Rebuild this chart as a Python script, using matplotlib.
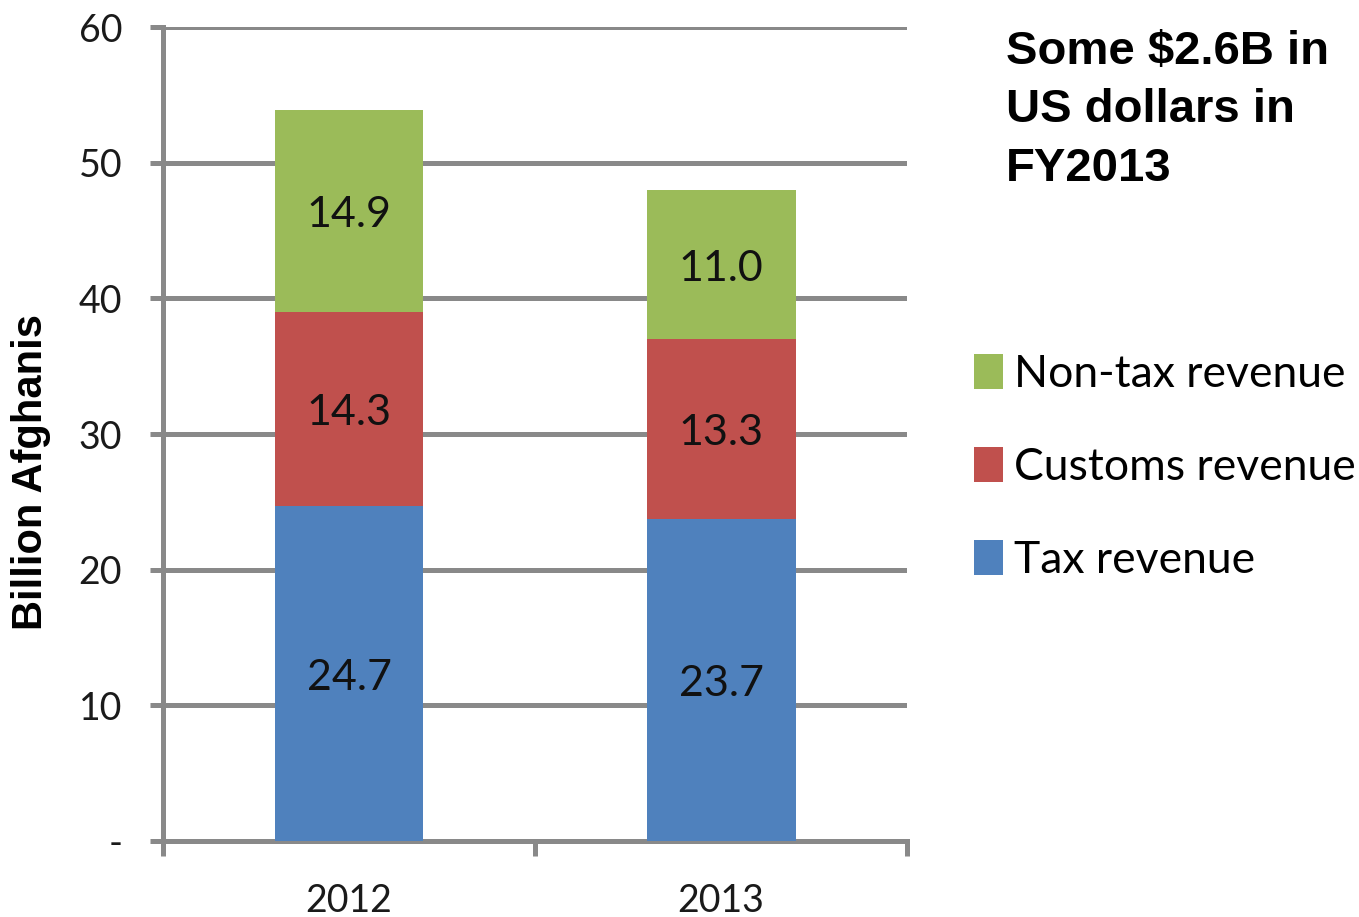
import matplotlib
matplotlib.use("Agg")
import matplotlib.pyplot as plt
from matplotlib.patches import Patch
import numpy as np

years = ["2012", "2013"]
series_names = ["Tax revenue", "Customs revenue", "Non-tax revenue"]
tax = [24.7, 23.7]
customs = [14.3, 13.3]
nontax = [14.9, 11.0]
colors = ["#4F81BD", "#C0504D", "#9BBB59"]
ytick_vals = [0, 10, 20, 30, 40, 50, 60]
ytick_labels = ["-", "10", "20", "30", "40", "50", "60"]

fig = plt.figure(figsize=(13.59, 9.17), dpi=100)
ax = fig.add_axes([0.1200, 0.0829, 0.5475, 0.8876])

grid_c = "#898989"
lw = 3.6
x = np.arange(len(years)) + 0.5
bottom = np.zeros(len(years))
handles = []
for vals, name, c in zip([tax, customs, nontax], series_names, colors):
    ax.bar(x, vals, width=0.40, bottom=bottom, color=c, zorder=3)
    for xi, b, v in zip(x, bottom, vals):
        ax.text(xi, b + v / 2 - 0.3, f"{v:.1f}", ha="center", va="center",
                fontsize=31, family="Lato", color="#111111", zorder=4)
    bottom = bottom + np.array(vals)
    handles.append(Patch(facecolor=c, label=name))

ax.set_xlim(0, 2)
ax.set_ylim(0, 60)
ax.set_yticks(ytick_vals)
ax.set_yticklabels(ytick_labels, family="Lato", fontsize=27, color="#1a1a1a")
ax.yaxis.grid(True, color=grid_c, linewidth=lw, zorder=0)
ax.set_axisbelow(True)
ax.tick_params(axis="y", length=9.4, width=lw, color=grid_c, pad=20)

ax.set_xticks([0, 1, 2], minor=True)
ax.set_xticks(x)
ax.set_xticklabels(years, family="Lato", fontsize=27, color="#1a1a1a")
ax.tick_params(axis="x", which="major", length=0, pad=30)
ax.tick_params(axis="x", which="minor", length=11, width=lw, color=grid_c)

for s in ["top", "right"]:
    ax.spines[s].set_visible(False)
for s in ["left", "bottom"]:
    ax.spines[s].set_color(grid_c)
    ax.spines[s].set_linewidth(lw)

fig.text(31 / 1359, 1 - 472 / 917, "Billion Afghanis", rotation=90,
         ha="center", va="center", fontsize=30, fontweight="bold",
         family="Liberation Sans")

fig.text(1006 / 1359, 1 - 30 / 917, "Some $2.6B in\nUS dollars in\nFY2013",
         ha="left", va="top", fontsize=34, fontweight="bold",
         family="Liberation Sans", linespacing=1.42)

leg = fig.legend(handles=handles[::-1], loc="upper left",
                 bbox_to_anchor=(974 / 1359, 1 - 354 / 917), frameon=False,
                 prop={"family": "Lato", "size": 32},
                 handlelength=0.65, handleheight=0.82, handletextpad=0.25,
                 labelspacing=1.17, borderaxespad=0, borderpad=0)

fig.savefig("out.png", dpi=100)
